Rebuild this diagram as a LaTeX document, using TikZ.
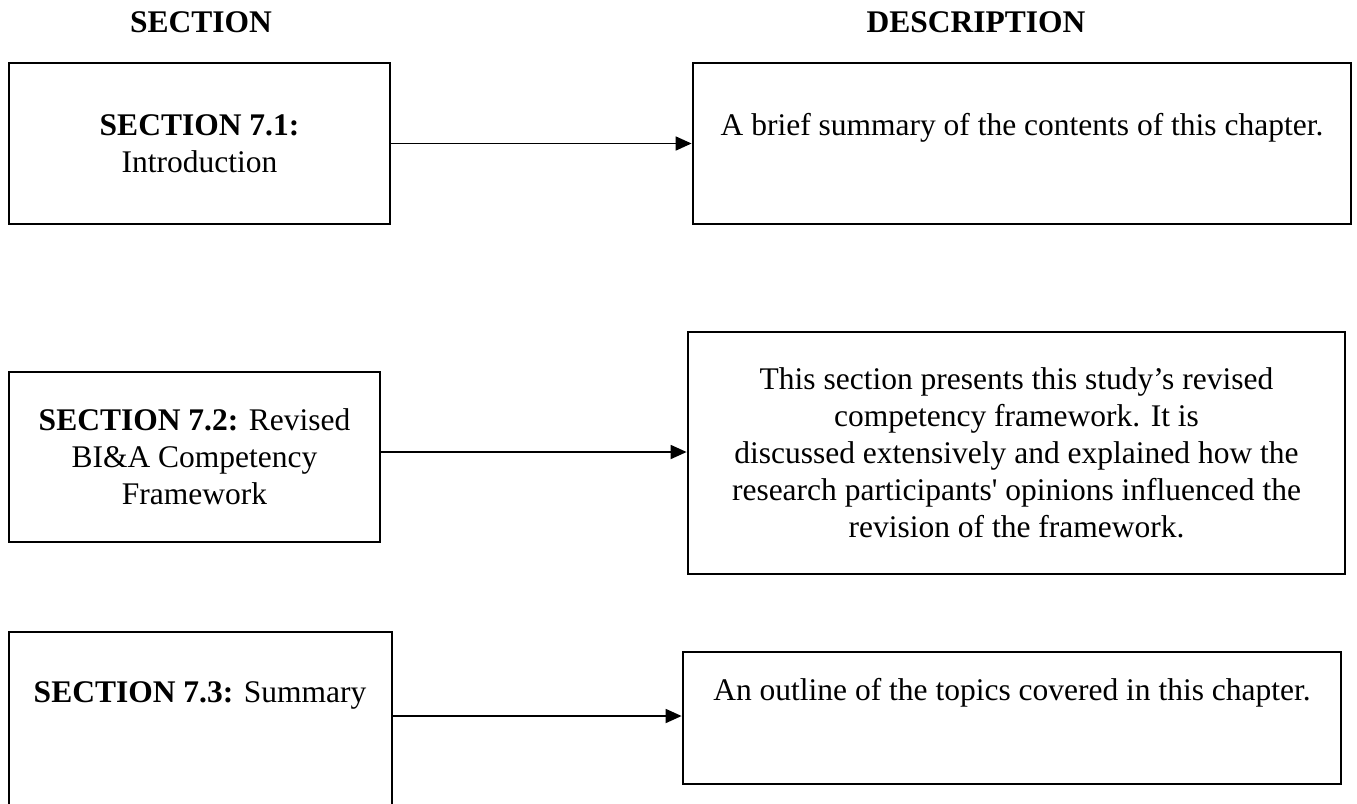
\documentclass[tikz,border=0pt]{standalone}
\usepackage{fontspec}
\setmainfont{Liberation Serif}[Ligatures=TeXOff]
\usetikzlibrary{arrows.meta}
\begin{document}
\begin{tikzpicture}[x=1pt,y=-1pt,
  every node/.style={font=\fontsize{31.5}{37}\selectfont},
  frame/.style={draw, line width=2.8pt, rectangle, inner sep=0pt},
  txt/.style={align=center, inner sep=0pt},
  link/.style={line width=1.8pt, -{Triangle[length=16pt,width=14pt]}}]
\useasboundingbox (0,0) rectangle (1357,803);

% column headings
\node[txt, font=\fontsize{31.5}{37}\selectfont\bfseries] (hsec) at (201,22) {SECTION};
\node[txt, font=\fontsize{31.5}{37}\selectfont\bfseries] (hdesc) at (976,22) {DESCRIPTION};

% row 1
\node[frame, minimum width=381pt, minimum height=161pt] (s1) at (199.5,143.5) {};
\node[txt] (s1t) at (199.5,144) {\textbf{SECTION 7.1:}\\Introduction};
\node[frame, minimum width=658pt, minimum height=161pt] (d1) at (1022,143.5) {};
\node[txt] (d1t) at (1022,128) {A brief summary of the contents of this chapter.};
\draw[link] (s1.east) -- (d1.west);

% row 2
\node[frame, minimum width=371pt, minimum height=170pt] (s2) at (194.5,457) {};
\node[txt] (s2t) at (194.5,457) {\textbf{SECTION 7.2:} Revised\\BI\&A Competency\\Framework};
\node[frame, minimum width=657pt, minimum height=242pt] (d2) at (1016.5,453) {};
\node[txt] (d2t) at (1016.5,453) {This section presents this study’s revised\\competency framework. It is\\discussed extensively and explained how the\\research participants' opinions influenced the\\revision of the framework.};
\coordinate (r2) at (0,452);
\draw[link] (s2.east |- r2) -- (d2.west |- r2);

% row 3 (section box runs past the lower edge)
\coordinate (s3bl) at (9,812);
\coordinate (s3tl) at (9,632);
\coordinate (s3tr) at (392,632);
\coordinate (s3br) at (392,812);
\draw[line width=2.8pt, line join=miter] (s3bl) -- (s3tl) -- (s3tr) -- (s3br);
\node[txt] (s3t) at (200,695) {\textbf{SECTION 7.3:} Summary};
\node[frame, minimum width=658pt, minimum height=132pt] (d3) at (1012,718) {};
\node[txt] (d3t) at (1012,693) {An outline of the topics covered in this chapter.};
\coordinate (r3) at (0,716);
\draw[link] (s3tr |- r3) -- (d3.west |- r3);
\end{tikzpicture}
\end{document}
